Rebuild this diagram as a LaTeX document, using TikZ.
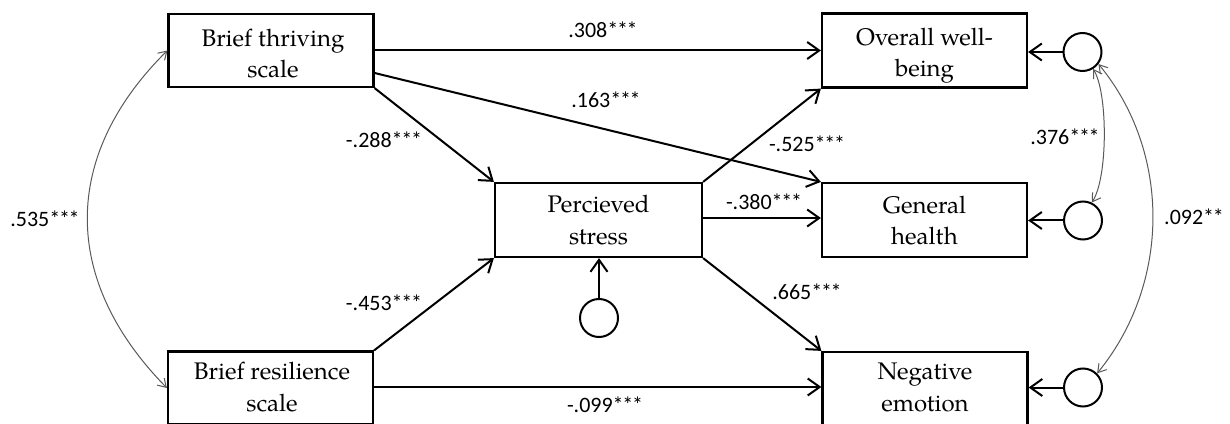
\documentclass[tikz,border=0pt]{standalone}
\usepackage{fontspec}
\newfontfamily\palfont{TeX Gyre Pagella}
\newfontfamily\calfont{Carlito}
\usetikzlibrary{arrows.meta}
\newcommand\tstar{*\kern-1.3pt*\kern-1.3pt*}
\newcommand\dstar{*\kern-1.3pt*}
\begin{document}
\begin{tikzpicture}[x=1pt,y=1pt,
  box/.style={draw, line width=2.2pt, minimum width=205pt, minimum height=73pt, inner sep=0pt},
  err/.style={draw, circle, line width=2pt, minimum size=38pt, inner sep=0pt},
  txt/.style={font=\palfont\fontsize{24}{31.5}\selectfont, align=center, inner sep=0pt, anchor=base},
  coef/.style={font=\calfont\fontsize{22}{25}\selectfont, inner sep=0pt, anchor=base},
  reg/.style={draw, line width=2pt, -{Straight Barb[length=12pt,width=17pt,line width=2pt]}},
  cov/.style={draw, line width=1pt, black!65, {Straight Barb[length=8pt,width=10pt]}-{Straight Barb[length=8pt,width=10pt]}}
]
\useasboundingbox (0,0) rectangle (1230,423);
\clip (0,0) rectangle (1230,423);

% boxes
\node[box] (bt) at (271,372.5) {};
\node[box] (br) at (270.5,35) {};
\node[box, minimum width=207pt, minimum height=74pt] (ps) at (598.5,203) {};
\node[box, minimum height=74pt] (ow) at (924.5,372.5) {};
\node[box, minimum height=74pt] (gh) at (924.5,203) {};
\node[box, minimum height=74pt] (ne) at (925,34) {};

% box texts (anchor = baseline of the last line)
\node[txt] (btt) at (273,345.3) {Brief thriving\\scale};
\node[txt] (brt) at (272,12) {Brief resilience\\scale};
\node[txt] (pst) at (598.5,178.7) {Percieved\\stress};
\node[txt] (owt) at (924.5,346.3) {Overall well-\\being};
\node[txt] (ght) at (924.5,178) {General\\health};
\node[txt] (net) at (925,12) {Negative\\emotion};

% error circles
\node[err] (eps) at (599,105) {};
\node[err] (eow) at (1082.5,371) {};
\node[err] (egh) at (1083,202.5) {};
\node[err] (ene) at (1083,35.5) {};

% regression paths
\draw[reg] (bt.east) -- (ow.west);
\draw[reg] ([yshift=-22.5pt]bt.east) -- (gh.north west);
\draw[reg] (bt.south east) -- (ps.north west);
\draw[reg] (br.north east) -- (ps.south west);
\draw[reg] ([yshift=1pt]br.east) -- ([yshift=1pt]br.east -| ne.west);
\draw[reg] (ps.north east) -- (ow.south west);
\draw[reg] ([yshift=2pt]ps.east) -- ([yshift=2pt]gh.west);
\draw[reg] (ps.south east) -- (ne.north west);

\draw[reg] (eps.north) -- (eps.north |- ps.south);
\draw[reg] (eow.west) -- (eow.west -| ow.east);
\draw[reg] (egh.west) -- (egh.west -| gh.east);
\draw[reg] (ene.west) -- (ene.west -| ne.east);

% covariances
\draw[cov] (bt.west) .. controls (61,267) and (61,143) .. (br.west);
\draw[cov] (eow.-58) .. controls (1108,330) and (1108,245) .. (egh.64);
\draw[cov] (ene.45) .. controls (1171,140) and (1171,271) .. (eow.-37);

% coefficients
\node[coef] (c1) at (603,385) {.308\tstar};
\node[coef] (c2) at (606,315) {.163\tstar};
\node[coef] (c3) at (384,275) {-.288\tstar};
\node[coef] (c4) at (384,113) {-.453\tstar};
\node[coef] (c5) at (807,271) {-.525\tstar};
\node[coef] (c6) at (764,213) {-.380\tstar};
\node[coef] (c7) at (807,123) {.665\tstar};
\node[coef] (c8) at (605,11) {-.099\tstar};
\node[coef] (c9) at (45,196) {.535\tstar};
\node[coef] (c10) at (1065,278) {.376\tstar};
\node[coef] (c11) at (1194,198) {.092\dstar};
\end{tikzpicture}
\end{document}
